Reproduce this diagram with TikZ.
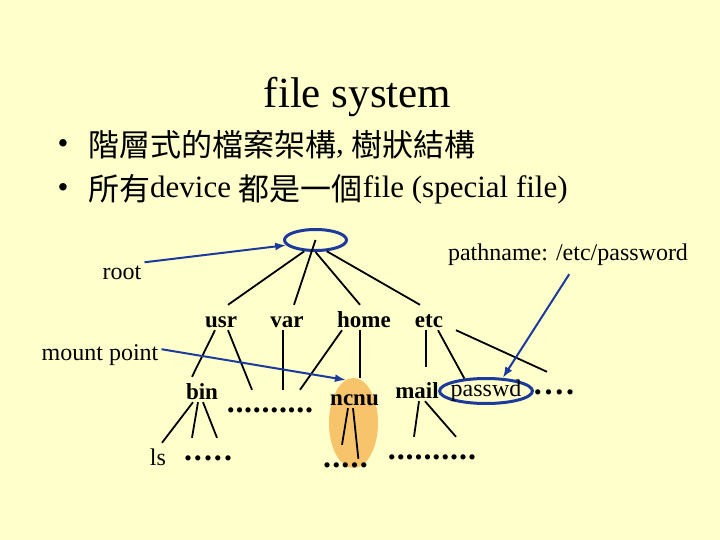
\documentclass[tikz,border=0pt]{standalone}
\usepackage{fontspec}
\setmainfont{Liberation Serif}
\newfontfamily\cjk{Noto Sans CJK TC}
\usetikzlibrary{arrows.meta, shapes.geometric}
\definecolor{bgyellow}{RGB}{255,255,204}
\definecolor{ptrblue}{RGB}{28,58,156}
\definecolor{hlorange}{RGB}{248,196,107}
\newcommand\zh[1]{\raisebox{-3pt}{\cjk #1}}
\newcommand\pdots[2][1pt]{.\foreach \k in {2,...,#2}{\kern#1.}}
\tikzset{
    lbl/.style={font=\fontsize{23}{23}\selectfont\bfseries, inner sep=2pt, text height=20pt, text depth=1pt, anchor=base},
    plainlbl/.style={lbl, font=\fontsize{24}{24}\selectfont},
    dotrow/.style={lbl, font=\fontsize{32}{32}\selectfont\bfseries},
    note/.style={font=\fontsize{24}{24}\selectfont, inner sep=3pt, anchor=base},
    ring/.style={ellipse, draw=ptrblue, line width=3pt, inner sep=0pt},
    branch/.style={line width=1.8pt},
    ptr/.style={draw=ptrblue, line width=2pt, -{Latex[length=11pt,width=8pt]}},
}

\begin{document}
\begin{tikzpicture}[x=1pt,y=-1pt]
    \fill[bgyellow] (0,0) rectangle (720,540);
    \useasboundingbox (0,0) rectangle (720,540);
    % heading and bullets
    \node[font=\fontsize{43}{43}\selectfont, anchor=base] (title) at (357.5,108) {file system};
    \node[font=\fontsize{31}{31}\selectfont, anchor=base] (bul1) at (63,154) {\textbullet};
    \node[font=\fontsize{31}{31}\selectfont, anchor=base west, inner sep=0pt] (line1) at (88,154) {\zh{階層式的檔案架構}, \zh{樹狀結構}};
    \node[font=\fontsize{31}{31}\selectfont, anchor=base] (bul2) at (63,197) {\textbullet};
    \node[font=\fontsize{31}{31}\selectfont, anchor=base west, inner sep=0pt] (line2) at (88,197) {\zh{所有}device \zh{都是一個}file (special file)};
    % highlight behind ncnu
    \node[ellipse, fill=hlorange, minimum width=49pt, minimum height=90pt, inner sep=0pt] (hl) at (353.5,423) {};
    % tree
    \node[ring, minimum width=62pt, minimum height=21pt] (root) at (315.5,240) {};
    \node[lbl] (usr) at (221,327) {usr};
    \node[lbl] (var) at (287,327) {var};
    \node[lbl] (home) at (364,327) {home};
    \node[lbl] (etc) at (429,327) {etc};
    \node[lbl] (bin) at (202,399) {bin};
    \node[dotrow] (dotsA) at (270,412) {\pdots[0.7pt]{10}};
    \node[lbl] (ncnu) at (354.5,405) {ncnu};
    \node[lbl] (mail) at (417,398) {mail};
    \node[ring, font=\fontsize{24}{24}\selectfont, inner sep=-2.5pt, minimum width=92pt, minimum height=25pt] (pw) at (486,391) {passwd};
    \node[dotrow] (dotsP) at (554,394) {\pdots[2.7pt]{4}};
    \node[plainlbl] (ls) at (158,465) {ls};
    \node[dotrow] (dotsL) at (208,460) {\pdots[2pt]{5}};
    \node[dotrow] (dotsN) at (345.5,467) {\pdots[1.25pt]{5}};
    \node[dotrow] (dotsM) at (432,459) {\pdots[0.9pt]{10}};
    \draw[branch] (root.-135) -- ([xshift=7pt]usr.north);
    \draw[branch] (root.center) -- ([xshift=7pt]var.north);
    \draw[branch] (root.south) -- ([xshift=-4pt]home.north);
    \draw[branch] (root.-45) -- ([xshift=-9pt]etc.north);
    \draw[branch] ([xshift=-6pt]usr.south) -- ([xshift=-10pt]bin.north);
    \draw[branch] ([xshift=7pt]usr.south) -- ([xshift=-18pt]dotsA.north);
    \draw[branch] ([xshift=-4pt]var.south) -- ([xshift=13pt]dotsA.north);
    \draw[branch] ([xshift=-22pt]home.south) -- ([xshift=30pt]dotsA.north);
    \draw[branch] ([xshift=-4pt]home.south) -- ([xshift=6.5pt]hl.north);
    \draw[branch, shorten >=9pt] ([xshift=-3pt]etc.south) -- ([xshift=9pt]mail.north);
    \draw[branch] ([xshift=9pt]etc.south) -- (pw.150);
    \draw[branch] ([xshift=27pt]etc.south) -- ([xshift=-7pt]dotsP.north);
    \draw[branch] ([xshift=-9pt]bin.south) -- ([xshift=4pt]ls.north);
    \draw[branch] ([xshift=-4pt]bin.south) -- ([xshift=-16pt]dotsL.north);
    \draw[branch] ([xshift=1pt]bin.south) -- ([xshift=9pt]dotsL.north);
    \draw[branch] ([xshift=-6.5pt]ncnu.south) -- ([xshift=-3.5pt]dotsN.north);
    \draw[branch, shorten >=6pt] ([xshift=-1.5pt]ncnu.south) -- ([xshift=13.5pt]dotsN.mid);
    \draw[branch] ([xshift=2pt]mail.south) -- ([xshift=-18pt]dotsM.north);
    \draw[branch] ([xshift=8pt]mail.south) -- ([xshift=24pt]dotsM.north);
    % pointers
    \node[note] (rootlbl) at (122,279) {root};
    \node[note] (mount) at (100,360) {mount point};
    \node[note] (pathlbl) at (568,260) {pathname: /etc/password};
    \draw[ptr] (rootlbl.north east) -- (root.190);
    \draw[ptr] (mount.5) -- (hl.100);
    \draw[ptr, shorten <=7pt] ([xshift=5pt]pathlbl.south) -- (pw.38);
\end{tikzpicture}
\end{document}
